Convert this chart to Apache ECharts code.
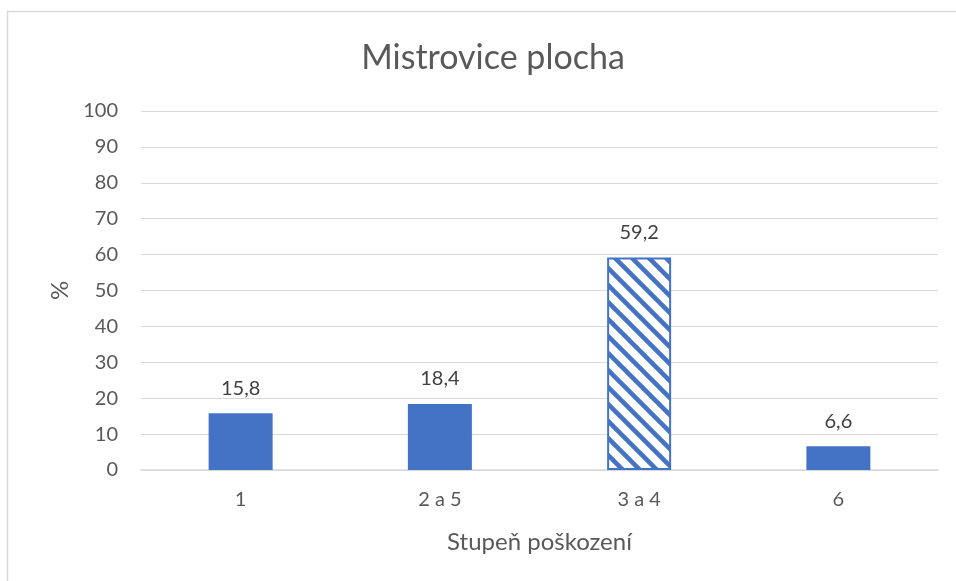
<!DOCTYPE html>
<html>
<head>
<meta charset="utf-8">
<script src="https://cdn.jsdelivr.net/npm/echarts@6/dist/echarts.min.js"></script>
<style>
  html, body { margin: 0; padding: 0; background: #ffffff; }
  #chart { width: 956px; height: 581px; }
</style>
</head>
<body>
<div id="chart"></div>
<script>
var categories = ['1', '2 a 5', '3 a 4', '6'];
var values = [15.8, 18.4, 59.2, 6.6];
var labels = ['15,8', '18,4', '59,2', '6,6'];
var hatched = [false, false, true, false];

var blue = '#4472C4';

// diagonal stripe pattern for the hatched bar
function stripePattern() {
    var p = 17;
    var c = document.createElement('canvas');
    c.width = p; c.height = p;
    var ctx = c.getContext('2d');
    ctx.fillStyle = '#ffffff';
    ctx.fillRect(0, 0, p, p);
    ctx.strokeStyle = blue;
    ctx.lineWidth = 4.5;
    ctx.beginPath();
    ctx.moveTo(-p, -p); ctx.lineTo(2 * p, 2 * p);
    ctx.moveTo(-p, 0); ctx.lineTo(p, 2 * p);
    ctx.moveTo(0, -p); ctx.lineTo(2 * p, p);
    ctx.stroke();
    return c;
}

var pattern = stripePattern();

var barData = values.map(function (v, i) {
    var item = { value: v, label: { formatter: labels[i] } };
    if (hatched[i]) {
        item.itemStyle = {
            color: { image: pattern, repeat: 'repeat' },
            borderColor: blue,
            borderWidth: 2
        };
    }
    return item;
});

var chart = echarts.init(document.getElementById('chart'));
var option = {
    animation: false,
    textStyle: { fontFamily: 'Lato' },
    title: {
        text: 'Mistrovice plocha',
        top: 36,
        left: 488,
        textAlign: 'center',
        textStyle: { fontSize: 34, fontWeight: 'normal', color: '#595959', fontFamily: 'Lato' }
    },
    graphic: [{
        type: 'rect',
        shape: { x: 7.5, y: 11.5, width: 1000, height: 1000 },
        style: { fill: 'none', stroke: '#D9D9D9', lineWidth: 1.5 },
        silent: true
    }],
    grid: { left: 141, right: 18, top: 111, bottom: 111 },
    xAxis: {
        type: 'category',
        data: categories,
        name: 'Stupeň poškození',
        nameLocation: 'middle',
        nameGap: 60,
        nameTextStyle: { fontSize: 24, color: '#595959' },
        axisLine: { lineStyle: { color: '#D9D9D9', width: 1.5 } },
        axisTick: { show: false },
        axisLabel: { fontSize: 20, color: '#595959', margin: 20 }
    },
    yAxis: {
        type: 'value',
        min: 0,
        max: 100,
        interval: 10,
        name: '%',
        nameLocation: 'middle',
        nameGap: 69,
        nameRotate: 90,
        nameTextStyle: { fontSize: 24, color: '#595959' },
        axisLine: { show: false },
        axisTick: { show: false },
        axisLabel: { fontSize: 20, color: '#595959', margin: 23 },
        splitLine: { lineStyle: { color: '#D9D9D9', width: 1.2 } }
    },
    series: [{
        type: 'bar',
        data: barData,
        barWidth: 64,
        itemStyle: { color: blue },
        label: {
            show: true,
            position: 'top',
            distance: 15,
            fontSize: 20,
            color: '#404040'
        }
    }]
};
chart.setOption(option);
</script>
</body>
</html>
